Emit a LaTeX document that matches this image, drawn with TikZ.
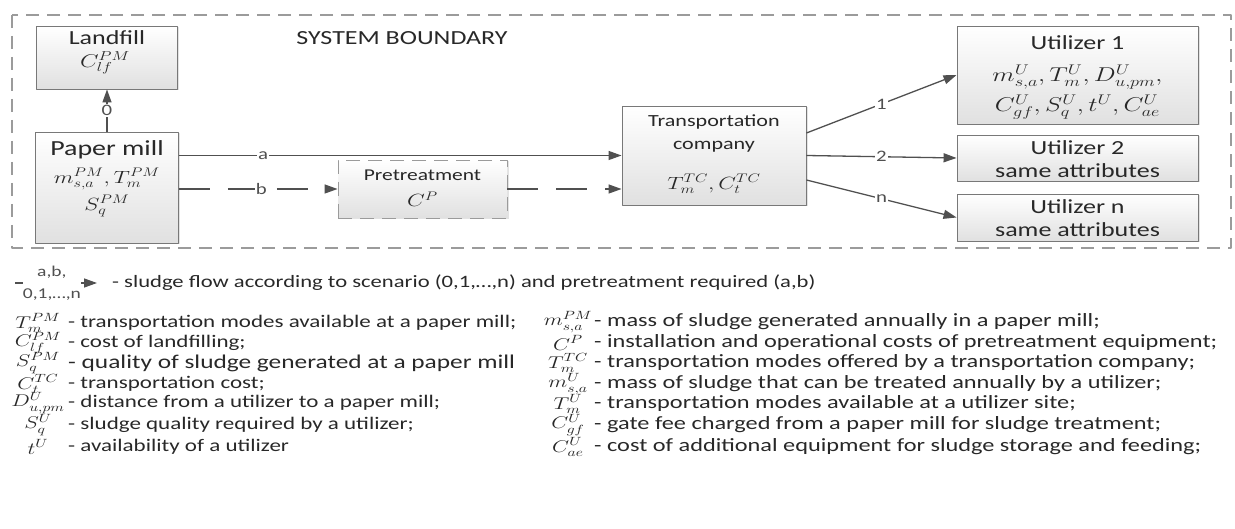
\RequirePackage{fix-cm}
\documentclass[tikz,border=0pt]{standalone}
\usepackage{graphicx}
\usepackage{fontspec}
\setmainfont{Carlito}[FakeStretch=1.3]
\usetikzlibrary{arrows.meta,positioning,shadows}
\definecolor{edgegray}{RGB}{80,80,80}
\definecolor{boxline}{RGB}{120,120,120}
\definecolor{dashgray}{RGB}{155,155,155}
\definecolor{inkgray}{RGB}{40,40,40}
\newcommand{\fs}[1]{\fontsize{#1}{#1}\selectfont}
% math stretched like the text
\newcommand{\wm}[1]{\scalebox{1.3}[1]{$#1$}}
\tikzset{
  %% boxes of the sludge chain (text is set on its own nodes)
  unitbox/.style={
    draw=boxline, line width=0.9pt,
    top color=white, bottom color=black!12,
    drop shadow={shadow xshift=1.5pt, shadow yshift=-1.5pt,
                 fill=black!22},
    inner sep=0pt
  },
  boxtxt/.style={inner sep=0pt, text=inkgray},
  flow/.style={draw=edgegray, line width=1.3pt,
    -{Triangle[length=13pt,width=9pt]}},
  dflow/.style={flow, dash pattern=on 31pt off 18pt},
  flowlabel/.style={fill=white, inner sep=1pt,
    font=\fs{16}, text=edgegray},
  boundary/.style={draw=dashgray, line width=1.2pt,
    dash pattern=on 13pt off 8pt},
  legsym/.style={font=\fs{17}, inner sep=0pt, text=inkgray},
  legtext/.style={anchor=west, inner sep=0pt, text=inkgray},
}

\begin{document}
\begin{tikzpicture}[x=1pt, y=-1pt, line join=round]

  \useasboundingbox (0,0) rectangle (1235,529);

  %% ── System boundary ───────────────────────────────────────────────
  \draw[boundary] (12,15) rectangle (1231,248);
  \node[boxtxt, font=\fs{20}] (sysb) at (402,38) {SYSTEM BOUNDARY};

  %% ── Boxes ─────────────────────────────────────────────────────────
  \node[unitbox, minimum width=141pt, minimum height=63pt] (landfill)
        at (107,57.5) {};
  \node[boxtxt, font=\fs{20}] (landfillA) at (107,38) {Landfill};
  \node[boxtxt, font=\fs{18.5}] (landfillB) at (105,63) {\wm{C_{lf}^{PM}}};

  \node[unitbox, minimum width=143pt, minimum height=111pt] (mill)
        at (107,187.5) {};
  \node[boxtxt, font=\fs{21.5}] (millA) at (107,150) {Paper mill};
  \node[boxtxt, font=\fs{17.7}] (millB) at (107,179)
        {\wm{m_{s,a}^{PM}, T_m^{PM}}};
  \node[boxtxt, font=\fs{17.7}] (millC) at (107,206) {\wm{S_q^{PM}}};

  \node[unitbox, draw=dashgray, dash pattern=on 14pt off 8pt,
        minimum width=169pt, minimum height=58pt] (pre)
        at (422.5,189) {};
  \node[boxtxt, font=\fs{16.5}] (preA) at (422.5,175) {Pretreatment};
  \node[boxtxt, font=\fs{17.7}] (preB) at (422.5,199) {\wm{C^{P}}};

  \node[unitbox, minimum width=184pt, minimum height=99pt] (trans)
        at (714,155.5) {};
  \node[boxtxt, font=\fs{17}] (transA) at (714,122) {Transportation};
  \node[boxtxt, font=\fs{17}] (transB) at (714,147) {company};
  \node[boxtxt, font=\fs{17.7}] (transC) at (714,184)
        {\wm{T_m^{TC}, C_t^{TC}}};

  \node[unitbox, minimum width=241pt, minimum height=98pt] (util1)
        at (1077.5,75) {};
  \node[boxtxt, font=\fs{20}] (util1A) at (1077.5,43) {Utilizer 1};
  \node[boxtxt, font=\fs{20}] (util1B) at (1077.5,77)
        {\wm{m_{s,a}^{U}, T_m^{U}, D_{u,pm}^{U},}};
  \node[boxtxt, font=\fs{20}] (util1C) at (1077.5,107)
        {\wm{C_{gf}^{U}, S_q^{U}, t^{U}, C_{ae}^{U}}};

  \node[unitbox, minimum width=241pt, minimum height=46pt] (util2)
        at (1077.5,158) {};
  \node[boxtxt, font=\fs{20}] (util2A) at (1077.5,148) {Utilizer 2};
  \node[boxtxt, font=\fs{20}] (util2B) at (1077.5,171) {same attributes};

  \node[unitbox, minimum width=241pt, minimum height=47pt] (utiln)
        at (1077.5,217.5) {};
  \node[boxtxt, font=\fs{20}] (utilnA) at (1077.5,207) {Utilizer n};
  \node[boxtxt, font=\fs{20}] (utilnB) at (1077.5,230) {same attributes};

  %% ── Flows ─────────────────────────────────────────────────────────
  \draw[flow] (mill) -- node[flowlabel] {0} (landfill);
  \draw[flow] (mill.east |- trans.west) -- node[flowlabel, pos=0.19] {a}
        (trans.west);
  \draw[dflow] (mill.east |- pre.west) -- node[flowlabel, pos=0.52] {b}
        (pre.west);
  \draw[dflow] (pre.east) -- (trans.west |- pre.east);
  \draw[flow] ([yshift=22.5pt]trans.east) -- node[flowlabel] {1}
        (util1.west);
  \draw[flow] (trans.east) -- node[flowlabel] {2} (util2.west);
  \draw[flow] ([yshift=-24.5pt]trans.east) -- node[flowlabel] {n}
        (utiln.west);

  %% ── Legend ────────────────────────────────────────────────────────
  \coordinate (lgs) at (15,283);
  \coordinate (lge) at (97,283);
  \draw[flow] (lgs) -- node[flowlabel, align=center, pos=0.45,
        inner sep=0pt, font=\fontsize{15}{22}\selectfont] (lgl)
        {a,b,\\0,1,…,n} (lge);
  \node[legtext, font=\fs{17.4}] (lgt) at (112,283)
        {- sludge flow according to scenario (0,1,…,n) and pretreatment required (a,b)};

  % left column
  \foreach \s/\t/\z/\y [count=\i] in {
      {T_m^{PM}}/{- transportation modes available at a paper mill;}/17.7/323,
      {C_{lf}^{PM}}/{- cost of landfilling;}/17.7/343,
      {S_q^{PM}}/{- quality of sludge generated at a paper mill}/19.5/363,
      {C_t^{TC}}/{- transportation cost;}/17.7/384,
      {D_{u,pm}^{U}}/{- distance from a utilizer to a paper mill;}/17.7/403,
      {S_q^{U}}/{- sludge quality required by a utilizer;}/17.7/425,
      {t^{U}}/{- availability of a utilizer}/17.7/447}{
    \node[legsym] (ls\i) at (38,\y) {\wm{\s}};
    \node[legtext, font=\fs{\z}] (lt\i) at (68,\y) {\t};
  }

  % right column
  \foreach \s/\t/\y [count=\i] in {
      {m_{s,a}^{PM}}/{- mass of sludge generated annually in a paper mill;}/322,
      {C^{P}}/{- installation and operational costs of pretreatment equipment;}/343,
      {T_m^{TC}}/{- transportation modes offered by a transportation company;}/363,
      {m_{s,a}^{U}}/{- mass of sludge that can be treated annually by a utilizer;}/384,
      {T_m^{U}}/{- transportation modes available at a utilizer site;}/404,
      {C_{gf}^{U}}/{- gate fee charged from a paper mill for sludge treatment;}/425,
      {C_{ae}^{U}}/{- cost of additional equipment for sludge storage and feeding;}/447}{
    \node[legsym] (rs\i) at (568,\y) {\wm{\s}};
    \node[legtext, font=\fs{18.7}] (rt\i) at (594,\y) {\t};
  }

\end{tikzpicture}
\end{document}
